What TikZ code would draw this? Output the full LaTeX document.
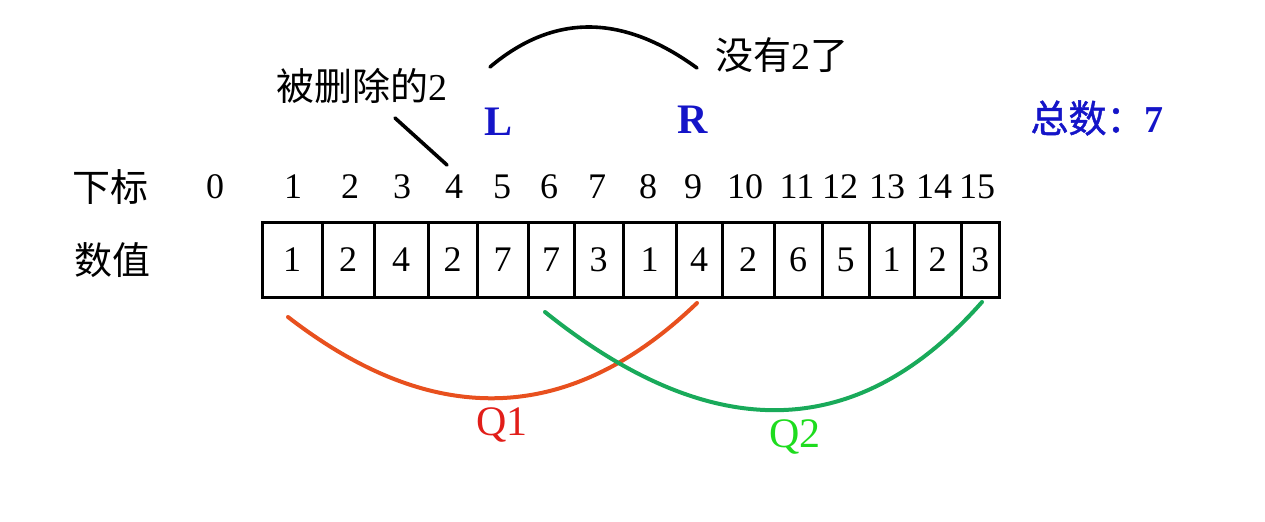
\documentclass[tikz,border=0pt]{standalone}
\usepackage{fontspec}
\setmainfont{Liberation Serif}
\newfontfamily\latin{Liberation Serif}
\newfontfamily\cjk{Noto Sans CJK SC}
\newfontfamily\cjkbold[FakeBold=1.2]{Noto Sans CJK SC}
\usetikzlibrary{calc}
\definecolor{ptrblue}{RGB}{20,20,200}
\definecolor{qone}{RGB}{232,80,30}
\definecolor{qonetext}{RGB}{225,30,25}
\definecolor{qtwo}{RGB}{25,170,90}
\definecolor{qtwotext}{RGB}{30,220,30}
\tikzset{
  idx/.style={inner sep=0pt,font=\fontsize{18}{20}\selectfont},
  val/.style={inner sep=0pt,font=\fontsize{18}{20}\selectfont},
  han/.style={inner sep=0pt,font=\fontsize{19}{21}\selectfont\cjk},
  ptr/.style={inner sep=0pt,text=ptrblue,font=\fontsize{21}{23}\selectfont\bfseries},
  qlab/.style={inner sep=0pt,font=\fontsize{21}{23}\selectfont},
  cell/.style={black,line width=1.5pt},
  curve/.style={line width=2pt,line cap=round}
}

\begin{document}
\begin{tikzpicture}[x=0.5pt,y=-0.5pt]

\path[use as bounding box] (0,0) rectangle (1265,521);

\node[han] (lidx) at (110,187) {下标};
\node[han] (lval) at (113,260) {数值};

\foreach \x [count=\i from 0] in {215,293,350,402,454,502,549,597,648,693,745,797,840,887,934,977}
  \node[idx] (i\i) at (\x,187) {\i};

\foreach \a/\b/\v [count=\i] in {262/322/1,322/374/2,374/428/4,428/477/2,477/528/7,528/574/7,574/623/3,623/676/1,676/722/4,722/774/2,774/822/6,822/869/5,869/914/1,914/961/2,961/999/3}{
  \draw[cell] (\a,222) rectangle (\b,297);
  \node[val] (v\i) at ({(\a+\b)/2},260) {\v};
}

\node[han] (del) at (362,86) {被删除的{\latin 2}};
\coordinate (d1) at (395,118);
\coordinate (d2) at (447,165);
\draw[curve,line width=1.8pt] (d1) -- (d2);

\node[ptr] (L) at (499,122) {L};
\node[ptr] (R) at (693,120) {R};
\coordinate (a1) at (490,67);
\coordinate (a2) at (697,68);
\draw[curve,line width=1.8pt] (a1) .. controls (554,13) and (623,14) .. (a2);
\node[han] (none) at (782,55) {没有{\latin 2}了};

\node[han,text=ptrblue] (tot) at (1097,118) {\cjkbold 总数：{\latin\bfseries 7}};

\coordinate (q1s) at (288,317);
\coordinate (q1e) at (697,303);
\draw[curve,qone] (q1s) .. controls (434,430) and (570,425) .. (q1e);
\node[qlab,text=qonetext] (Q1) at (502,425) {Q1};

\coordinate (q2s) at (545,312);
\coordinate (q2e) at (982,302);
\draw[curve,qtwo] (q2s) .. controls (712,446) and (858,443) .. (q2e);
\node[qlab,text=qtwotext] (Q2) at (795,437) {Q2};

\end{tikzpicture}
\end{document}
